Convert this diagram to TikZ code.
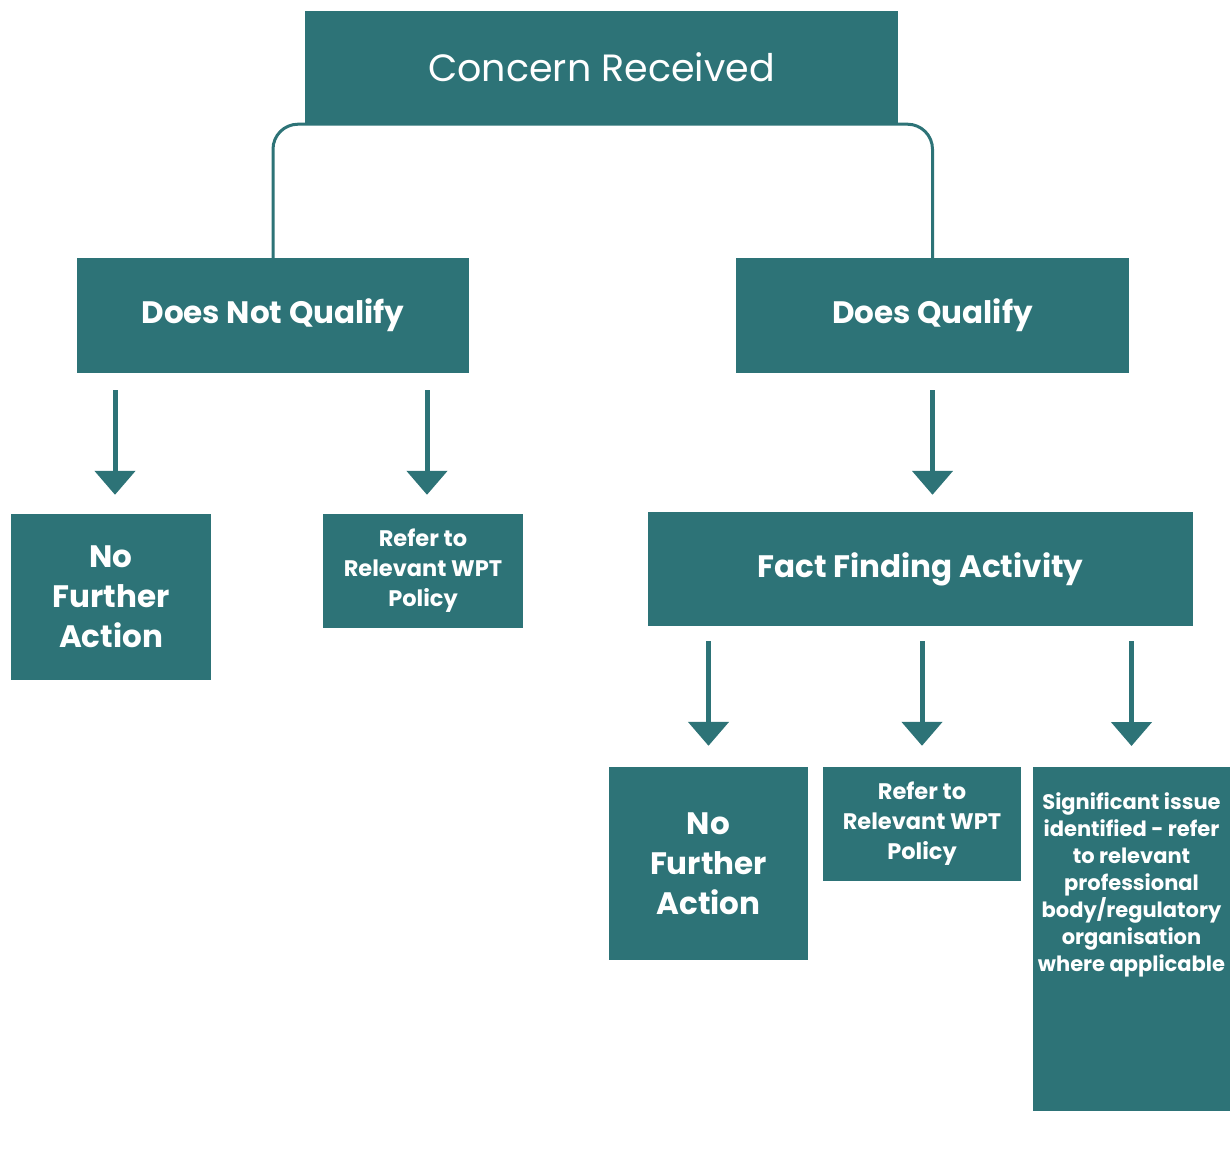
\documentclass[tikz,border=0pt]{standalone}
\usepackage{fontspec}
\setmainfont{Poppins}
\usetikzlibrary{arrows.meta}
\definecolor{teal1}{HTML}{2D7377}
\begin{document}
\begin{tikzpicture}[x=1pt,y=-1pt,
 box/.style={fill=teal1,text=white,inner sep=0pt,align=center,
  font=\bfseries\fontsize{31}{40}\selectfont},
 boxs/.style={box,font=\bfseries\fontsize{22.5}{30}\selectfont},
 boxt/.style={fill=teal1,text=white,inner sep=0pt,
  font=\bfseries\fontsize{21}{27}\selectfont},
 arr/.style={draw=teal1,line width=5pt,-{Triangle[width=40pt,length=24pt]}},
 link/.style={draw=teal1,line width=3pt,rounded corners=25pt},
 ]
 \useasboundingbox (0,0) rectangle (1231,1162);
 % top level
 \node[box,minimum width=593,minimum height=113,font=\fontsize{38}{40}\selectfont]
  (cr) at (601.5,67.5) {Concern Received};
 \node[box,minimum width=392,minimum height=115] (dnq) at (273,315.5) {Does Not Qualify};
 \node[box,minimum width=393,minimum height=115] (dq) at (932.5,315.5) {Does Qualify};
 \draw[link] (dnq.north) -- (dnq.north |- cr.south) -- (dq.north |- cr.south) -- (dq.north);

 % does not qualify
 \node[box,minimum width=200,minimum height=166] (nfa1) at (111,597) {No\\Further\\Action};
 \node[boxs,minimum width=200,minimum height=114] (ref1) at (423,571) {Refer to\\Relevant WPT\\Policy};
 \foreach \n in {nfa1,ref1}
  \draw[arr,shorten <=17pt,shorten >=19pt] ([xshift=4pt]\n |- dnq.south) -- ([xshift=4pt]\n.north);

 % does qualify
 \node[box,minimum width=545,minimum height=114] (ffa) at (920.5,569) {Fact Finding Activity};
 \draw[arr,shorten <=17pt,shorten >=17pt] (dq.south) -- (dq.south |- ffa.north);

 \node[box,minimum width=199,minimum height=193] (nfa2) at (708.5,863.5) {No\\Further\\Action};
 \node[boxs,minimum width=198,minimum height=114] (ref2) at (922,824) {Refer to\\Relevant WPT\\Policy};
 \node[boxt,text height=42pt,text depth=302pt,anchor=north] (sig) at (1131.5,767)
  {\parbox[t]{197pt}{\centering Significant issue\\identified - refer\\to relevant\\professional\\body/regulatory\\organisation\\where applicable}};
 \foreach \n in {nfa2,ref2,sig}
  \draw[arr,shorten <=15pt,shorten >=21pt] (\n |- ffa.south) -- (\n.north);
\end{tikzpicture}
\end{document}
